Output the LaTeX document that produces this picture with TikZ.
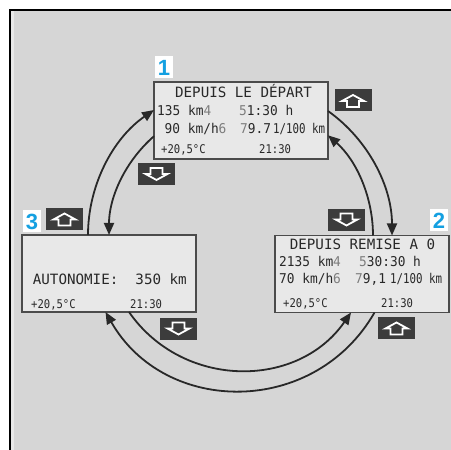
\documentclass[tikz,border=0pt]{standalone}
\usepackage{fontspec}
\newfontfamily\lcdfont{DejaVu Sans Mono}
\newfontfamily\lcdmidfont[FakeStretch=0.95]{DejaVu Sans Mono}
\newfontfamily\lcdsmallfont[FakeStretch=0.88]{DejaVu Sans Mono}
\newfontfamily\lcdnarrowfont[FakeStretch=0.8]{DejaVu Sans Mono}
\newfontfamily\tagfont{Liberation Sans}
\definecolor{pagegray}{RGB}{214,214,214}
\definecolor{screenfill}{RGB}{232,232,232}
\definecolor{framegray}{RGB}{75,75,75}
\definecolor{lcdink}{RGB}{40,40,40}
\definecolor{lcdfade}{RGB}{125,125,125}
\definecolor{keygray}{RGB}{60,60,60}
\definecolor{linkgray}{RGB}{40,40,40}
\definecolor{tagblue}{RGB}{20,160,225}
\usetikzlibrary{arrows.meta,positioning,calc}
\newcommand{\faded}[1]{\textcolor{lcdfade}{#1}}
\tikzset{
  screen/.style={draw=framegray, line width=1.5pt, fill=screenfill, minimum width=174pt, minimum height=77pt, inner sep=0pt, outer sep=0pt},
  lcdtitle/.style={inner sep=0pt, anchor=base, text=lcdink, font=\lcdfont\fontsize{14.2}{14.2}\selectfont},
  lcdline/.style={inner sep=0pt, anchor=base west, text=lcdink, font=\lcdmidfont\fontsize{13.5}{13.5}\selectfont},
  lcdunit/.style={lcdline, font=\lcdnarrowfont\fontsize{13.5}{13.5}\selectfont},
  lcdfoot/.style={lcdline, font=\lcdsmallfont\fontsize{12}{12}\selectfont},
  link/.style={draw=linkgray, line width=1.8pt, -{Triangle[length=12pt,width=10pt]}},
  keybox/.style={fill=keygray, minimum width=37pt, minimum height=22pt, inner sep=0pt},
  keyup/.style={keybox, path picture={
    \draw[white, line width=1.8pt] ([shift={(0pt,5.5pt)}]path picture bounding box.center)
      -- ++(-11pt,-6pt) -- ++(5pt,0pt) -- ++(0pt,-6pt) -- ++(12pt,0pt) -- ++(0pt,6pt) -- ++(5pt,0pt) -- cycle;}},
  keydown/.style={keybox, path picture={
    \draw[white, line width=1.8pt] ([shift={(0pt,-5.5pt)}]path picture bounding box.center)
      -- ++(-11pt,6pt) -- ++(5pt,0pt) -- ++(0pt,6pt) -- ++(12pt,0pt) -- ++(0pt,-6pt) -- ++(5pt,0pt) -- cycle;}},
  steptag/.style={fill=white, text=tagblue, font=\tagfont\bfseries\fontsize{22}{22}\selectfont, minimum width=18pt, minimum height=22pt, inner sep=0pt},
}
\begin{document}
\begin{tikzpicture}[x=1pt, y=1pt]
  \useasboundingbox (0,0) rectangle (451,450);
  % page
  \fill[white] (0,0) rectangle (451,450);
  \fill[pagegray] (10,0) rectangle (451,440);
  \fill[screenfill] (11,0) rectangle (14,439);
  \draw[line width=2.2pt] (10,0) -- (10,440) -- (451,440);

  % screens
  \node[screen] (depart) at (241,329.5) {};
  \node[screen] (remise) at (362,176) {};
  \node[screen] (autonomie) at (109,176.5) {};

  % cycle
  \draw[link] ([xshift=66]autonomie.north west) to[out=90, in=214.5, looseness=0.9] ([yshift=10.5]depart.west);
  \draw[link] ([yshift=-15.7]depart.west) to[out=221, in=90, looseness=0.89] ([xshift=87]autonomie.north west);
  \draw[link] ([yshift=9.5]depart.east) to[out=-35.4, in=90, looseness=0.9] ([xshift=117]remise.north west);
  \draw[link] ([xshift=98]remise.north west) to[out=90, in=318.6, looseness=0.89] ([yshift=-14.8]depart.east);
  \draw[link] ([xshift=107]autonomie.south west) to[out=304.8, in=235.2, looseness=1.08] ([xshift=76]remise.south west);
  \draw[link] ([xshift=99.5]remise.south west) to[out=240.2, in=299.8, looseness=1.14] ([xshift=83.5]autonomie.south west);

  % screen 1
  \node[lcdtitle] (t1) at (243.5,352.3) {DEPUIS LE DÉPART};
  \node[lcdline] (d1a) at (157,334) {135 km\faded{4}};
  \node[lcdline] (d1b) at (239,334) {\faded{5}1:30 h};
  \node[lcdline] (d1c) at (164.5,316.7) {90 km/h\faded{6}};
  \node[lcdline] (d1d) at (240,316.7) {\faded{7}9.7};
  \node[lcdunit] (d1e) at (273,316.7) {1/100 km};
  \node[lcdfoot] (f1a) at (161,296) {+20,5°C};
  \node[lcdfoot] (f1b) at (259,296) {21:30};

  % screen 2
  \node[lcdtitle] (t2) at (362.5,200.7) {DEPUIS REMISE A 0};
  \node[lcdline] (d2a) at (279,183.3) {2135 km\faded{4}};
  \node[lcdline] (d2b) at (359,183.3) {\faded{5}30:30 h};
  \node[lcdline] (d2c) at (279,166) {70 km/h\faded{6}};
  \node[lcdline] (d2d) at (355,166) {\faded{7}9,1};
  \node[lcdunit] (d2e) at (390,166) {1/100 km};
  \node[lcdfoot] (f2a) at (283,142.7) {+20,5°C};
  \node[lcdfoot] (f2b) at (381,142.7) {21:30};

  % screen 3
  \node[lcdtitle, anchor=base west] (t3) at (32.7,165.7) {AUTONOMIE:~~350 km};
  \node[lcdfoot] (f3a) at (31,141.7) {+20,5°C};
  \node[lcdfoot] (f3b) at (130,141.7) {21:30};

  % keys
  \node[keyup] (k1up) at (353,349.5) {};
  \node[keydown] (k1down) at (156.5,275.5) {};
  \node[keydown] (k2down) at (346.5,230) {};
  \node[keyup] (k2up) at (396.5,122) {};
  \node[keyup] (k3up) at (64.5,231) {};
  \node[keydown] (k3down) at (178.5,121) {};

  % step numbers
  \node[steptag] (n1) at (164,382.5) {1};
  \node[steptag] (n2) at (439,229.5) {2};
  \node[steptag] (n3) at (32,228.5) {3};
\end{tikzpicture}
\end{document}
